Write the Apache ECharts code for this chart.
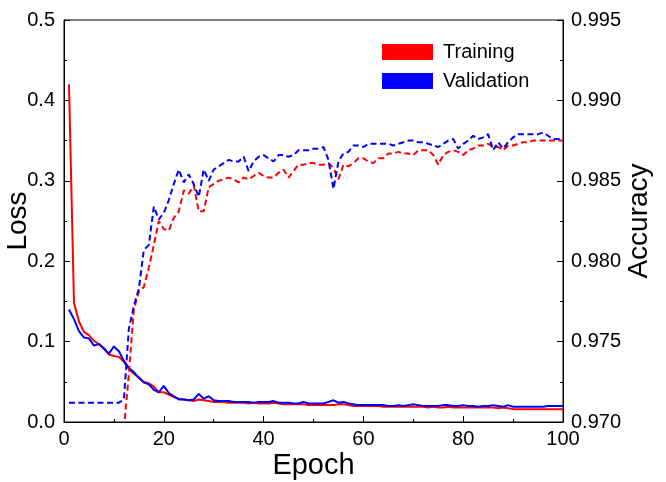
<!DOCTYPE html>
<html>
<head>
<meta charset="utf-8">
<script src="https://cdn.jsdelivr.net/npm/echarts@6/dist/echarts.min.js"></script>
<style>
  html, body { margin: 0; padding: 0; background: #fff; }
  #chart { width: 666px; height: 482px; }
</style>
</head>
<body>
<div id="chart"></div>
<script>
// epochs 1..100
var epochs = [];
for (var e = 1; e <= 100; e++) epochs.push(e);

var trainLoss = [
  0.420, 0.148, 0.125, 0.112, 0.108, 0.101, 0.097, 0.092, 0.084, 0.082,
  0.081, 0.075, 0.066, 0.060, 0.055, 0.050, 0.048, 0.044, 0.037, 0.037,
  0.034, 0.031, 0.029, 0.028, 0.027, 0.026, 0.028, 0.027, 0.026, 0.025,
  0.025, 0.025, 0.024, 0.024, 0.024, 0.024, 0.023, 0.024, 0.023, 0.023,
  0.023, 0.024, 0.023, 0.022, 0.022, 0.022, 0.022, 0.022, 0.021, 0.021,
  0.021, 0.021, 0.021, 0.021, 0.022, 0.022, 0.021, 0.020, 0.020, 0.020,
  0.020, 0.020, 0.020, 0.019, 0.019, 0.019, 0.019, 0.019, 0.019, 0.019,
  0.019, 0.019, 0.018, 0.019, 0.018, 0.018, 0.019, 0.018, 0.018, 0.018,
  0.018, 0.018, 0.018, 0.018, 0.018, 0.018, 0.017, 0.018, 0.017, 0.016,
  0.016, 0.016, 0.016, 0.016, 0.016, 0.016, 0.016, 0.016, 0.016, 0.016
];

var valLoss = [
  0.140, 0.128, 0.113, 0.105, 0.104, 0.095, 0.097, 0.091, 0.085, 0.094,
  0.088, 0.076, 0.067, 0.062, 0.055, 0.049, 0.047, 0.040, 0.037, 0.045,
  0.036, 0.032, 0.028, 0.028, 0.027, 0.028, 0.035, 0.029, 0.032, 0.027,
  0.026, 0.026, 0.026, 0.025, 0.025, 0.025, 0.025, 0.024, 0.025, 0.025,
  0.025, 0.026, 0.024, 0.024, 0.024, 0.023, 0.023, 0.025, 0.023, 0.023,
  0.023, 0.023, 0.025, 0.027, 0.024, 0.025, 0.023, 0.022, 0.021, 0.021,
  0.021, 0.021, 0.021, 0.021, 0.020, 0.020, 0.021, 0.020, 0.021, 0.022,
  0.021, 0.020, 0.020, 0.020, 0.020, 0.021, 0.021, 0.020, 0.020, 0.021,
  0.020, 0.020, 0.019, 0.020, 0.020, 0.021, 0.020, 0.019, 0.021, 0.019,
  0.019, 0.019, 0.019, 0.019, 0.019, 0.019, 0.020, 0.020, 0.020, 0.020
];

// training accuracy is below the axis range before epoch 12
var trainAcc = [
  null, null, null, null, null, null, null, null, null, null,
  null, 0.9696, 0.9730, 0.9770, 0.9781, 0.9784, 0.9796, 0.9810, 0.9825, 0.9820,
  0.9819, 0.9827, 0.9831, 0.9844, 0.9842, 0.9847, 0.9831, 0.9831, 0.9846, 0.9848,
  0.9850, 0.9851, 0.9852, 0.9851, 0.9849, 0.9852, 0.9851, 0.9853, 0.9855, 0.9853,
  0.9852, 0.9852, 0.9855, 0.9857, 0.9852, 0.9856, 0.9860, 0.9860, 0.9861, 0.9861,
  0.9860, 0.9860, 0.9861, 0.9858, 0.9851, 0.9860, 0.9859, 0.9861, 0.9864, 0.9864,
  0.9862, 0.9861, 0.9864, 0.9864, 0.9867, 0.9867, 0.9868, 0.9867, 0.9867, 0.9866,
  0.9869, 0.9869, 0.9869, 0.9866, 0.9860, 0.9866, 0.9868, 0.9869, 0.9868, 0.9866,
  0.9869, 0.9870, 0.9872, 0.9872, 0.9873, 0.9871, 0.9871, 0.9869, 0.9872, 0.9872,
  0.9873, 0.9874, 0.9874, 0.9875, 0.9875, 0.9875, 0.9875, 0.9875, 0.9875, 0.9875
];

var valAcc = [
  0.9712, 0.9712, 0.9712, 0.9712, 0.9712, 0.9712, 0.9712, 0.9712, 0.9712, 0.9712,
  0.9712, 0.9714, 0.9758, 0.9772, 0.9783, 0.9807, 0.9810, 0.9834, 0.9826, 0.9830,
  0.9838, 0.9848, 0.9857, 0.9849, 0.9854, 0.9848, 0.9840, 0.9857, 0.9850, 0.9857,
  0.9859, 0.9861, 0.9863, 0.9862, 0.9862, 0.9865, 0.9856, 0.9862, 0.9865, 0.9866,
  0.9864, 0.9862, 0.9866, 0.9866, 0.9865, 0.9866, 0.9869, 0.9869, 0.9869, 0.9870,
  0.9870, 0.9871, 0.9863, 0.9845, 0.9862, 0.9867, 0.9868, 0.9872, 0.9872, 0.9871,
  0.9873, 0.9873, 0.9873, 0.9873, 0.9873, 0.9872, 0.9873, 0.9874, 0.9875, 0.9875,
  0.9874, 0.9874, 0.9873, 0.9872, 0.9871, 0.9873, 0.9875, 0.9876, 0.9870, 0.9873,
  0.9875, 0.9878, 0.9876, 0.9877, 0.9879, 0.9869, 0.9874, 0.9870, 0.9874, 0.9877,
  0.9879, 0.9879, 0.9879, 0.9879, 0.9879, 0.9880, 0.9878, 0.9876, 0.9876, 0.9875
];

var xTicks = [0, 20, 40, 60, 80, 100];
var lossTicks = [0, 0.1, 0.2, 0.3, 0.4, 0.5];
var accTicks = [0.970, 0.975, 0.980, 0.985, 0.990, 0.995];

function pairs(ys) {
  return epochs.map(function (x, i) { return [x, ys[i]]; });
}

var font = 'Liberation Sans, Arial, sans-serif';
var RED = '#ff0000', BLUE = '#0000ff';

var tickStyle = { show: true, inside: true, length: 6, lineStyle: { color: '#000', width: 1 } };
var minorStyle = { show: true, splitNumber: 2, length: 3, lineStyle: { color: '#000', width: 1 } };

var chart = echarts.init(document.getElementById('chart'), null, { renderer: 'canvas' });
chart.setOption({
  animation: false,
  backgroundColor: '#fff',
  textStyle: { fontFamily: font, color: '#000' },
  grid: {
    left: 64, right: 103, top: 20, bottom: 60,
    outerBoundsMode: 'none', containLabel: false,
    show: true, borderColor: '#000', borderWidth: 1
  },
  legend: {
    data: ['Training', 'Validation'],
    orient: 'vertical',
    left: 382, top: 42,
    padding: 0,
    icon: 'rect',
    itemWidth: 51, itemHeight: 16, itemGap: 9,
    itemStyle: { borderWidth: 0 },
    textStyle: { fontFamily: font, fontSize: 20, color: '#000', padding: [0, 0, 0, 5] }
  },
  xAxis: {
    type: 'value',
    min: xTicks[0], max: xTicks[xTicks.length - 1], interval: 20,
    name: 'Epoch', nameLocation: 'middle', nameGap: 29, nameMoveOverlap: false,
    nameTextStyle: { fontFamily: font, fontSize: 29, color: '#000', verticalAlign: 'top' },
    axisLine: { show: true, lineStyle: { color: '#000', width: 1 } },
    axisTick: tickStyle, minorTick: minorStyle,
    axisLabel: { fontFamily: font, fontSize: 20, color: '#000', margin: 7 },
    splitLine: { show: false }
  },
  yAxis: [{
    type: 'value', position: 'left',
    min: lossTicks[0], max: lossTicks[lossTicks.length - 1], interval: 0.1,
    name: 'Loss', nameLocation: 'middle', nameGap: 32, nameRotate: 90, nameMoveOverlap: false,
    nameTextStyle: { fontFamily: font, fontSize: 28, color: '#000' },
    axisLine: { show: true, lineStyle: { color: '#000', width: 1 } },
    axisTick: tickStyle, minorTick: minorStyle,
    axisLabel: { fontFamily: font, fontSize: 20, color: '#000', margin: 9,
      formatter: function (v) { return v.toFixed(1); } },
    splitLine: { show: false }
  }, {
    type: 'value', position: 'right',
    min: accTicks[0], max: accTicks[accTicks.length - 1], interval: 0.005,
    name: 'Accuracy', nameLocation: 'middle', nameGap: 62, nameRotate: 90, nameMoveOverlap: false,
    nameTextStyle: { fontFamily: font, fontSize: 28, color: '#000' },
    axisLine: { show: true, lineStyle: { color: '#000', width: 1 } },
    axisTick: tickStyle, minorTick: minorStyle,
    axisLabel: { fontFamily: font, fontSize: 20, color: '#000', margin: 8,
      formatter: function (v) { return v.toFixed(3); } },
    splitLine: { show: false }
  }],
  series: [
    { name: 'Training', type: 'line', yAxisIndex: 0, data: pairs(trainLoss), showSymbol: false,
      itemStyle: { color: RED }, lineStyle: { color: RED, width: 2 } },
    { name: 'Validation', type: 'line', yAxisIndex: 0, data: pairs(valLoss), showSymbol: false,
      itemStyle: { color: BLUE }, lineStyle: { color: BLUE, width: 2 } },
    { name: 'Training', type: 'line', yAxisIndex: 1, data: pairs(trainAcc), showSymbol: false,
      itemStyle: { color: RED }, lineStyle: { color: RED, width: 2, type: [6, 3.5] } },
    { name: 'Validation', type: 'line', yAxisIndex: 1, data: pairs(valAcc), showSymbol: false,
      itemStyle: { color: BLUE }, lineStyle: { color: BLUE, width: 2, type: [6, 3.5] } }
  ]
});
</script>
</body>
</html>
